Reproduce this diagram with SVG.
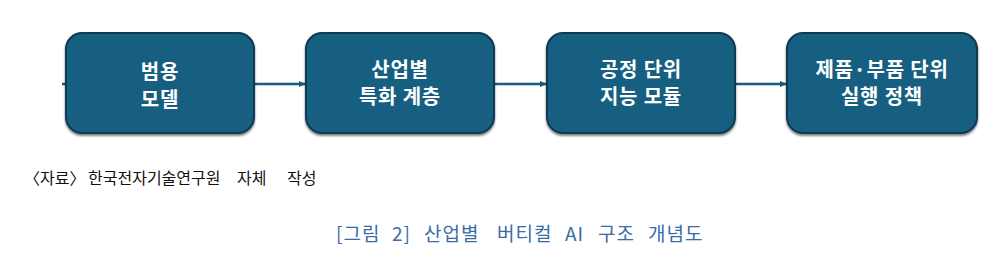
<svg xmlns="http://www.w3.org/2000/svg" width="1006" height="261" viewBox="0 0 1006 261">
<style>
.box{fill:#185e80;stroke:#0d3a52;stroke-width:2}
.lbl{font-family:"Noto Sans CJK KR","Noto Sans",sans-serif;font-weight:bold;font-size:20px;letter-spacing:0.8px;fill:#ffffff;text-anchor:middle}
.con{stroke:#1b5a7c;stroke-width:2.5;fill:none}
.src{font-family:"Noto Sans CJK KR","Noto Sans",sans-serif;font-size:16px;fill:#111}
.cap{font-family:"Noto Sans CJK KR","Noto Sans",sans-serif;font-size:19px;letter-spacing:1px;fill:#3a6ca6}
</style>
<defs>
<marker id="ah" markerWidth="8" markerHeight="8" refX="6" refY="4" orient="auto" markerUnits="userSpaceOnUse">
<path d="M0,1 L7,4 L0,7 Z" fill="#1b5a7c"/>
</marker>
<filter id="sh" x="-10%" y="-10%" width="120%" height="130%">
<feDropShadow dx="0" dy="2" stdDeviation="1" flood-color="#000" flood-opacity="0.5"/>
</filter>
</defs>
<g id="connectors">
<line class="con" x1="62" y1="84" x2="66" y2="84"/>
<line class="con" x1="254" y1="84" x2="305" y2="84" marker-end="url(#ah)"/>
<line class="con" x1="494" y1="84" x2="546" y2="84" marker-end="url(#ah)"/>
<line class="con" x1="735" y1="84" x2="786" y2="84" marker-end="url(#ah)"/>
</g>
<g id="n1">
<rect class="box" x="66" y="33" width="188" height="100" rx="16" filter="url(#sh)"/>
<text class="lbl" x="160" y="79">범용</text>
<text class="lbl" x="160" y="107">모델</text>
</g>
<g id="n2">
<rect class="box" x="306" y="33" width="188" height="100" rx="16" filter="url(#sh)"/>
<text class="lbl" x="400" y="77">산업별</text>
<text class="lbl" x="400" y="104">특화 계층</text>
</g>
<g id="n3">
<rect class="box" x="547" y="33" width="188" height="100" rx="16" filter="url(#sh)"/>
<text class="lbl" x="641" y="77">공정 단위</text>
<text class="lbl" x="641" y="104">지능 모듈</text>
</g>
<g id="n4">
<rect class="box" x="787" y="33" width="190" height="100" rx="16" filter="url(#sh)"/>
<text class="lbl" x="882" y="77">제품·부품 단위</text>
<text class="lbl" x="882" y="104">실행 정책</text>
</g>
<g id="source">
<text class="src" x="24" y="184">〈자료〉</text>
<text class="src" x="88" y="184">한국전자기술연구원</text>
<text class="src" x="237" y="184">자체</text>
<text class="src" x="287" y="184">작성</text>
</g>
<g id="caption">
<text class="cap" x="336" y="241">[그림</text>
<text class="cap" x="392" y="241">2]</text>
<text class="cap" x="424" y="241">산업별</text>
<text class="cap" x="497" y="241">버티컬</text>
<text class="cap" x="565" y="241">AI</text>
<text class="cap" x="598" y="241">구조</text>
<text class="cap" x="648" y="241">개념도</text>
</g>
</svg>
